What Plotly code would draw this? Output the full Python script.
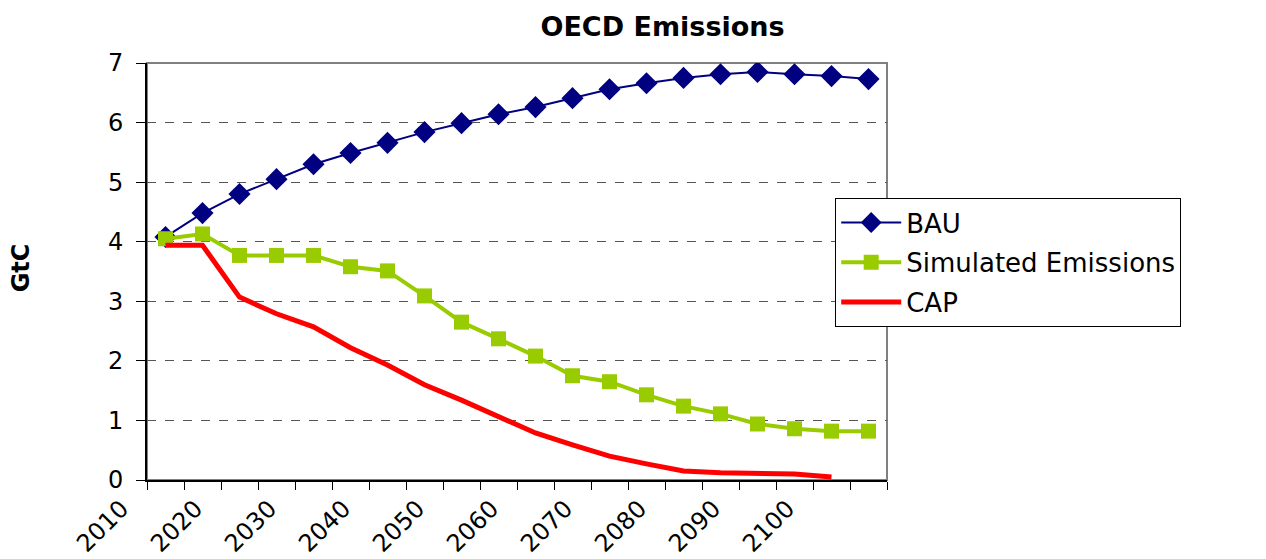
import plotly.graph_objects as go

years = list(range(2010, 2110, 5))
tick_years = list(range(2010, 2110, 10))
tick_labels = [str(y) for y in tick_years]

bau = [4.08, 4.48, 4.80, 5.05, 5.30, 5.49, 5.66, 5.84, 5.99, 6.14,
       6.26, 6.41, 6.56, 6.66, 6.75, 6.81, 6.85, 6.81, 6.78, 6.73]
simulated = [4.05, 4.13, 3.77, 3.77, 3.77, 3.58, 3.51, 3.09, 2.65, 2.37,
             2.08, 1.75, 1.65, 1.43, 1.24, 1.11, 0.94, 0.86, 0.82, 0.82]
cap = [3.94, 3.94, 3.07, 2.79, 2.57, 2.22, 1.93, 1.60, 1.34, 1.06,
       0.79, 0.59, 0.40, 0.27, 0.15, 0.12, 0.10, 0.10, 0.05, None]

FONT = "DejaVu Sans, Arial, sans-serif"

fig = go.Figure()
fig.add_trace(go.Scatter(x=years, y=bau, name="BAU", mode="lines+markers", legendgroup="a",
                         line=dict(color="#000080", width=2),
                         marker=dict(symbol="diamond", size=17, color="#000080")))
fig.add_trace(go.Scatter(x=years, y=simulated, name="Simulated Emissions", mode="lines+markers",
                         legendgroup="b",
                         line=dict(color="#99CC00", width=4),
                         marker=dict(symbol="square", size=15, color="#99CC00")))
fig.add_trace(go.Scatter(x=years, y=cap, name="CAP", mode="lines", legendgroup="c",
                         line=dict(color="#FF0000", width=5)))

fig.update_layout(
    width=1266, height=559,
    margin=dict(l=139, r=387, t=55, b=87, autoexpand=False),
    paper_bgcolor="white", plot_bgcolor="white",
    font=dict(family=FONT, color="black"),
    title=dict(text="<b>OECD Emissions</b>", x=0.517, xanchor="center", y=0.966, yanchor="middle",
               xref="container", yref="container",
               font=dict(size=27, family=FONT, color="black")),
    showlegend=True,
    legend=dict(x=0.93, y=0.676, xanchor="left", yanchor="top",
                bgcolor="white", bordercolor="black", borderwidth=1,
                font=dict(size=26, family=FONT), itemwidth=60, tracegroupgap=3),
    shapes=[dict(type="rect", xref="paper", yref="paper", x0=0, y0=0, x1=1, y1=1,
                 line=dict(color="#808080", width=2), layer="below")],
    annotations=[dict(text="<b>GtC</b>", xref="paper", yref="paper", x=-0.17, y=0.508,
                      xanchor="center", yanchor="middle",
                      textangle=-90, showarrow=False, font=dict(size=24, family=FONT))],
)

fig.update_xaxes(
    range=[2007.5, 2107.5], tickmode="array", tickvals=tick_years, ticktext=tick_labels,
    tickangle=-45, ticks="", showgrid=False, zeroline=False, automargin=False,
    showline=True, linecolor="black", linewidth=2,
    tickfont=dict(size=24, family=FONT), ticklabelshift=-44, ticklabelstandoff=3,
    minor=dict(ticks="outside", tick0=2007.5, dtick=5, ticklen=8, tickcolor="black", tickwidth=1, showgrid=False),
)
fig.update_yaxes(
    range=[0, 7], dtick=1, ticks="outside", ticklen=9, tickcolor="black", automargin=False,
    showline=True, linecolor="black", linewidth=2,
    showgrid=True, gridcolor="#555555", griddash="dash", gridwidth=1, zeroline=False,
    tickfont=dict(size=24, family=FONT), ticklabelstandoff=8,
)

fig.write_html("out.html")
